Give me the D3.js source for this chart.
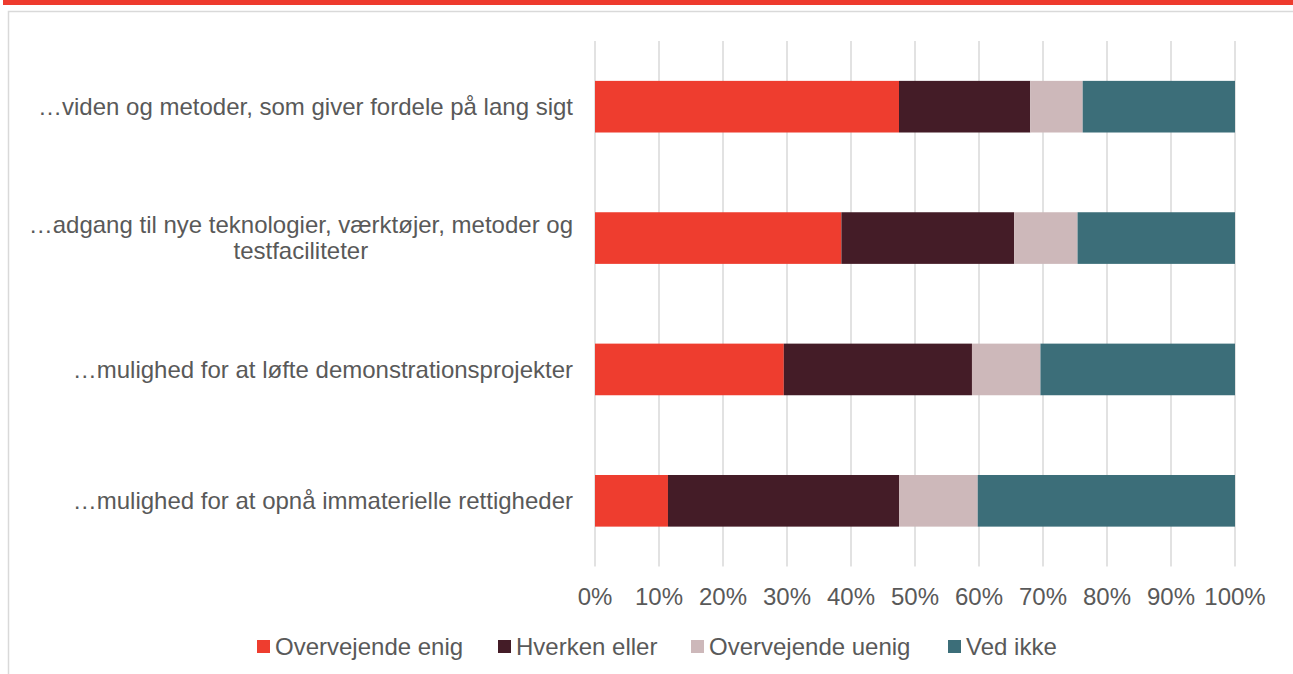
<!DOCTYPE html>
<html>
<head>
<meta charset="utf-8">
<script src="https://cdn.jsdelivr.net/npm/d3@7"></script>
<style>
  body { margin: 0; background: #fff; }
  text { font-family: "Liberation Sans", Arial, sans-serif; fill: #595959; }
</style>
</head>
<body>
<div id="chart"></div>
<script>
// chart data
var categories = [
  ["…viden og metoder, som giver fordele på lang sigt"],
  ["…adgang til nye teknologier, værktøjer, metoder og", "testfaciliteter"],
  ["…mulighed for at løfte demonstrationsprojekter"],
  ["…mulighed for at opnå immaterielle rettigheder"]
];
var seriesNames = ["Overvejende enig", "Hverken eller", "Overvejende uenig", "Ved ikke"];
var seriesColors = ["#EE3D2F", "#441C27", "#CDB8BA", "#3C6E79"];
var enig   = [47.5, 38.5, 29.5, 11.4];
var hverken = [20.5, 27.0, 29.4, 36.1];
var uenig  = [8.2, 9.9, 10.7, 12.3];
var vedIkke = [23.8, 24.6, 30.4, 40.2];
var tickValues = [0, 10, 20, 30, 40, 50, 60, 70, 80, 90, 100];

var svgWidth = 1293;
var svgHeight = 674;
var fontSize = "24px";

var svg = d3.select("#chart").append("svg")
  .attr("width", svgWidth)
  .attr("height", svgHeight);

// red band on top and grey frame
svg.append("rect")
  .attr("x", 3).attr("y", 0)
  .attr("width", svgWidth).attr("height", 5)
  .attr("fill", "#EE3B2E");

svg.append("path")
  .attr("d", "M8.5," + svgHeight + " V11.5 H" + svgWidth)
  .attr("fill", "none")
  .attr("stroke", "#D9D9D9")
  .attr("stroke-width", 1.5);

// scales
var x = d3.scaleLinear().domain([0, 100]).range([595, 1235]);
var y = d3.scaleBand()
  .domain(d3.range(categories.length))
  .range([41, 566.5])
  .paddingInner(0.607)
  .paddingOuter(0.3035);

// gridlines
svg.append("g")
  .selectAll("line")
  .data(tickValues)
  .enter()
  .append("line")
  .attr("x1", d => x(d)).attr("x2", d => x(d))
  .attr("y1", 41).attr("y2", 566.5)
  .attr("stroke", "#D9D9D9")
  .attr("stroke-width", 1.5);

// stack the series
var rows = categories.map((c, i) => ({
  i: i, s0: enig[i], s1: hverken[i], s2: uenig[i], s3: vedIkke[i]
}));
var stack = d3.stack().keys(["s0", "s1", "s2", "s3"]);
var layers = stack(rows);

svg.append("g")
  .selectAll("g")
  .data(layers)
  .enter()
  .append("g")
  .attr("fill", (d, k) => seriesColors[k])
  .selectAll("rect")
  .data(d => d)
  .enter()
  .append("rect")
  .attr("x", d => x(d[0]))
  .attr("width", d => x(d[1]) - x(d[0]))
  .attr("y", d => y(d.data.i))
  .attr("height", y.bandwidth());

// x axis tick labels
svg.append("g")
  .selectAll("text")
  .data(tickValues)
  .enter()
  .append("text")
  .attr("x", d => x(d))
  .attr("y", 597)
  .attr("dy", "0.35em")
  .attr("text-anchor", "middle")
  .style("font-size", fontSize)
  .text(d => d + "%");

// category labels, multi-line ones centred as a block ending at the right edge
var labelRight = 573;
var lineHeight = 26;
categories.forEach(function(lines, i) {
  var g = svg.append("g");
  var cy = y(i) + y.bandwidth() / 2;
  var texts = lines.map(function(line, j) {
    return g.append("text")
      .attr("y", cy + (j - (lines.length - 1) / 2) * lineHeight)
      .attr("dy", "0.35em")
      .attr("text-anchor", "middle")
      .style("font-size", fontSize)
      .text(line);
  });
  var maxW = d3.max(texts, t => t.node().getComputedTextLength());
  texts.forEach(t => t.attr("x", labelRight - maxW / 2));
});

// legend
var legendX = [257, 498, 691, 948];
var legend = svg.append("g");
seriesNames.forEach(function(name, k) {
  legend.append("rect")
    .attr("x", legendX[k]).attr("y", 640)
    .attr("width", 13).attr("height", 13)
    .attr("fill", seriesColors[k]);
  legend.append("text")
    .attr("x", legendX[k] + 18)
    .attr("y", 647)
    .attr("dy", "0.35em")
    .style("font-size", fontSize)
    .text(name);
});
</script>
</body>
</html>
